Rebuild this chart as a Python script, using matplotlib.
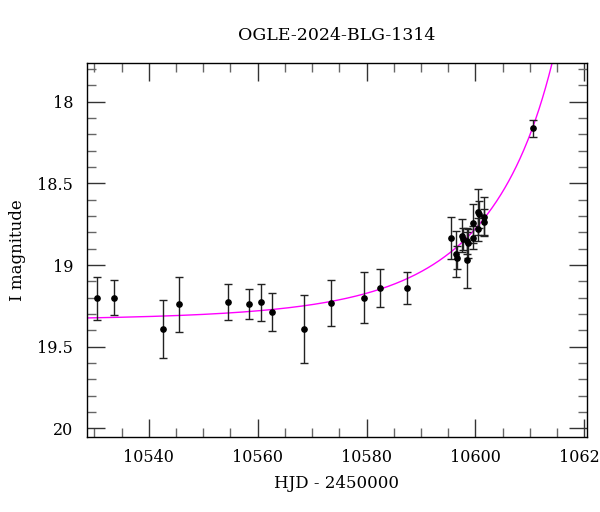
import numpy as np
import matplotlib
matplotlib.use("Agg")
import matplotlib.pyplot as plt
from matplotlib.ticker import MultipleLocator

# Observed photometry (HJD - 2450000, I mag, error)
hjd = [10530.56, 10533.62, 10542.57, 10545.62, 10554.51, 10558.48, 10560.54,
       10562.60, 10568.59, 10573.55, 10579.56, 10582.55, 10587.51,
       10595.48, 10596.40, 10596.60, 10597.50, 10597.65, 10598.50, 10598.58,
       10598.52, 10599.50, 10599.58, 10600.50, 10600.60, 10600.55, 10601.48,
       10601.58, 10610.48]
mag = [19.204, 19.200, 19.392, 19.241, 19.228, 19.239, 19.228,
       19.286, 19.392, 19.231, 19.200, 19.141, 19.141,
       18.833, 18.931, 18.955, 18.820, 18.840, 18.850, 18.867,
       18.969, 18.745, 18.833, 18.677, 18.690, 18.781, 18.704,
       18.735, 18.163]
err = [0.133, 0.108, 0.177, 0.170, 0.110, 0.091, 0.112,
       0.118, 0.208, 0.141, 0.156, 0.118, 0.097,
       0.130, 0.139, 0.070, 0.100, 0.070, 0.080, 0.090,
       0.170, 0.120, 0.070, 0.140, 0.080, 0.070, 0.120,
       0.080, 0.054]

# Point-lens model parameters (read from the drawn fit)
t0 = 10620.5
tE = 29.6
u0 = 0.10
m_base = 19.34

def model(t):
    tau = (t - t0) / tE
    u = np.sqrt(u0**2 + tau**2)
    A = (u**2 + 2) / (u * np.sqrt(u**2 + 4))
    return m_base - 2.5 * np.log10(A)

plt.rcParams['font.family'] = ['DejaVu Serif']

fig = plt.figure(figsize=(6.0, 5.12), dpi=100)
ax = fig.add_axes([0.145, 0.147, 0.833, 0.7305])

tt = np.linspace(10528.0, 10621.0, 800)
ax.plot(tt, model(tt), color='#ff00ff', lw=1.0, zorder=2)

ax.errorbar(hjd, mag, yerr=err, fmt='o', color='black', ms=3.8,
            ecolor='#222222', elinewidth=1.0, capsize=3, capthick=1.0, zorder=3)

ax.set_xlim(10528.66, 10620.45)
ax.set_ylim(20.051, 17.761)

ax.xaxis.set_major_locator(MultipleLocator(20))
ax.xaxis.set_minor_locator(MultipleLocator(5))
ax.yaxis.set_major_locator(MultipleLocator(0.5))
ax.yaxis.set_minor_locator(MultipleLocator(0.1))
ax.set_yticks([18, 18.5, 19, 19.5, 20])
ax.set_yticklabels(['18', '18.5', '19', '19.5', '20'])

ax.tick_params(which='both', direction='in', top=True, right=True,
               labelsize=11.5)
ax.tick_params(which='major', length=13, width=1.0, color='#333333')
ax.tick_params(which='minor', length=6.5, width=1.0, color='#666666')
ax.tick_params(axis='x', which='major', pad=9)
ax.tick_params(axis='y', which='major', pad=10)

for s in ax.spines.values():
    s.set_linewidth(1.0)

ax.set_xlabel('HJD - 2450000', fontsize=12, labelpad=6)
ax.set_ylabel('I magnitude', fontsize=12, labelpad=8)
ax.set_title('OGLE-2024-BLG-1314', fontsize=12.5, pad=16)

fig.savefig('out.png', dpi=100)
